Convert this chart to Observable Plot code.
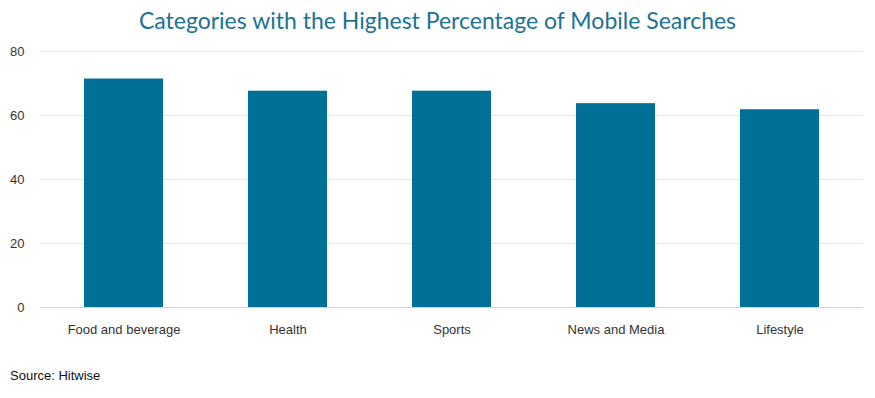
<!DOCTYPE html>
<html>
<head>
<meta charset="utf-8">
<script src="https://cdn.jsdelivr.net/npm/d3@7"></script>
<script src="https://cdn.jsdelivr.net/npm/@observablehq/plot@0.6"></script>
<style>
  html, body { margin: 0; padding: 0; background: #fff; }
  #wrap { position: relative; width: 875px; height: 398px; overflow: hidden; }
  #title { position: absolute; left: 0; top: 4px; width: 875px; text-align: center;
    font-family: Lato, "Open Sans", sans-serif; font-size: 23px; color: #1b7394; line-height: 32px; }
  #chart { position: absolute; left: 0; top: 40px; }
  #source { position: absolute; left: 10px; top: 368px; font-family: "Liberation Sans", Arial, sans-serif;
    font-size: 13px; color: #111; }
</style>
</head>
<body>
<div id="wrap">
  <div id="title">Categories with the Highest Percentage of Mobile Searches</div>
  <div id="chart"></div>
  <div id="source">Source: Hitwise</div>
</div>
<script>
const categories = ["Food and beverage", "Health", "Sports", "News and Media", "Lifestyle"];
const values = [71.4, 67.6, 67.6, 63.7, 61.8];
const yTicks = [0, 20, 40, 60, 80];

const data = categories.map((c, i) => ({category: c, value: values[i]}));

const chart = Plot.plot({
  width: 875,
  height: 310,
  marginLeft: 40,
  marginRight: 12,
  marginTop: 11,
  marginBottom: 43,
  style: {fontFamily: "'Liberation Sans', Arial, sans-serif", fontSize: "13px", color: "#333", background: "#fff"},
  x: {domain: categories, paddingInner: 0.52, paddingOuter: 0.26, label: null, tickSize: 0, tickPadding: 17},
  y: {domain: [0, 80], ticks: yTicks, label: null, tickSize: 0, tickPadding: 16},
  marks: [
    Plot.gridY(yTicks.filter(d => d > 0), {stroke: "#e6e6e6", strokeOpacity: 1}),
    Plot.barY(data, {x: "category", y: "value", fill: "#007096"}),
    Plot.ruleY([0], {stroke: "#ccd6e0", strokeOpacity: 1})
  ]
});
document.getElementById("chart").appendChild(chart);
</script>
</body>
</html>
